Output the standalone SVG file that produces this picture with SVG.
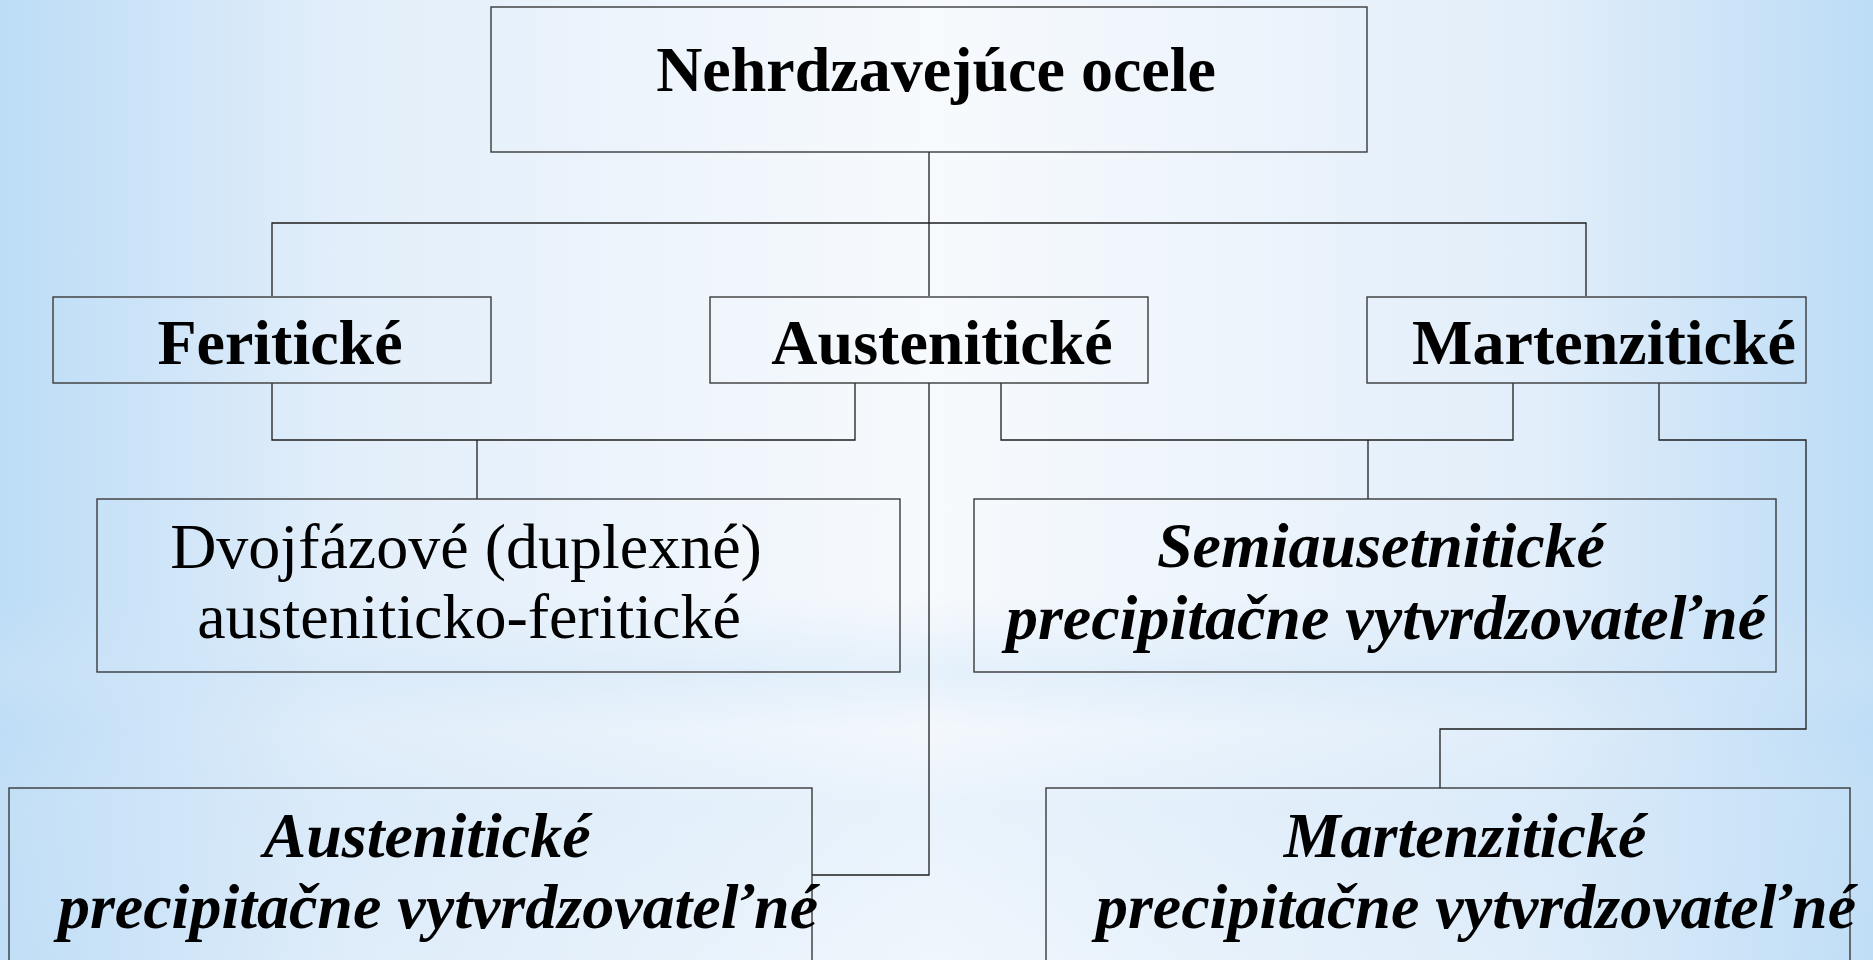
<svg xmlns="http://www.w3.org/2000/svg" width="1873" height="960" viewBox="0 0 1873 960">
  <defs>
    <linearGradient id="bgH" x1="0" y1="0" x2="1" y2="0">
      <stop offset="0" stop-color="#bcdcf6"/>
      <stop offset="0.18" stop-color="#e2eefa"/>
      <stop offset="0.5" stop-color="#f7fafd"/>
      <stop offset="0.82" stop-color="#e2eefa"/>
      <stop offset="1" stop-color="#bcdcf6"/>
    </linearGradient>
    <linearGradient id="bgV" x1="0" y1="0" x2="0" y2="1">
      <stop offset="0" stop-color="#cfe5f8" stop-opacity="0"/>
      <stop offset="0.62" stop-color="#cfe5f8" stop-opacity="0"/>
      <stop offset="0.70" stop-color="#cfe5f8" stop-opacity="0.45"/>
      <stop offset="0.76" stop-color="#cfe5f8" stop-opacity="0.1"/>
      <stop offset="0.84" stop-color="#cfe5f8" stop-opacity="0.35"/>
      <stop offset="1" stop-color="#cfe5f8" stop-opacity="0.2"/>
    </linearGradient>
  </defs>
  <style>
    .box { fill: none; stroke: #3a3a3a; stroke-width: 1.4; }
    .con { fill: none; stroke: #1e1e1e; stroke-width: 1.3; }
    .t { font-family: "Liberation Serif", "Times New Roman", serif; font-size: 64px; fill: #000; text-anchor: middle; }
    .b { font-weight: bold; }
    .bi { font-weight: bold; font-style: italic; }
  </style>
  <rect x="0" y="0" width="1873" height="960" fill="url(#bgH)"/>
  <rect x="0" y="0" width="1873" height="960" fill="url(#bgV)"/>

  <g id="connectors">
    <path class="con" d="M929 152 V296"/>
    <path class="con" d="M272 296 V223 H1586 V296"/>
    <path class="con" d="M272 383 V440 H855 V383"/>
    <path class="con" d="M477 440 V499"/>
    <path class="con" d="M929 383 V875 H812"/>
    <path class="con" d="M1001 383 V440 H1513 V383"/>
    <path class="con" d="M1368 440 V499"/>
    <path class="con" d="M1659 383 V440 H1806 V729 H1440 V788"/>
  </g>

  <g id="node-root">
    <rect class="box" x="491" y="7" width="876" height="145"/>
    <text class="t b" x="936" y="91">Nehrdzavejúce ocele</text>
  </g>
  <g id="node-feriticke">
    <rect class="box" x="53" y="297" width="438" height="86"/>
    <text class="t b" x="280" y="364">Feritické</text>
  </g>
  <g id="node-austeniticke">
    <rect class="box" x="710" y="297" width="438" height="86"/>
    <text class="t b" x="942" y="364">Austenitické</text>
  </g>
  <g id="node-martenziticke">
    <rect class="box" x="1367" y="297" width="439" height="86"/>
    <text class="t b" x="1604" y="364">Martenzitické</text>
  </g>
  <g id="node-duplex">
    <rect class="box" x="97" y="499" width="803" height="173"/>
    <text class="t" x="466" y="568">Dvojfázové (duplexné)</text>
    <text class="t" x="469" y="638">austeniticko-feritické</text>
  </g>
  <g id="node-semi">
    <rect class="box" x="974" y="499" width="802" height="173"/>
    <text class="t bi" x="1381" y="567">Semiausetnitické</text>
    <text class="t bi" x="1386" y="639">precipitačne vytvrdzovateľné</text>
  </g>
  <g id="node-aust-precip">
    <rect class="box" x="9" y="788" width="803" height="190"/>
    <text class="t bi" x="427" y="857">Austenitické</text>
    <text class="t bi" x="438" y="928">precipitačne vytvrdzovateľné</text>
  </g>
  <g id="node-mart-precip">
    <rect class="box" x="1046" y="788" width="804" height="190"/>
    <text class="t bi" x="1465" y="857">Martenzitické</text>
    <text class="t bi" x="1476" y="928">precipitačne vytvrdzovateľné</text>
  </g>
</svg>
